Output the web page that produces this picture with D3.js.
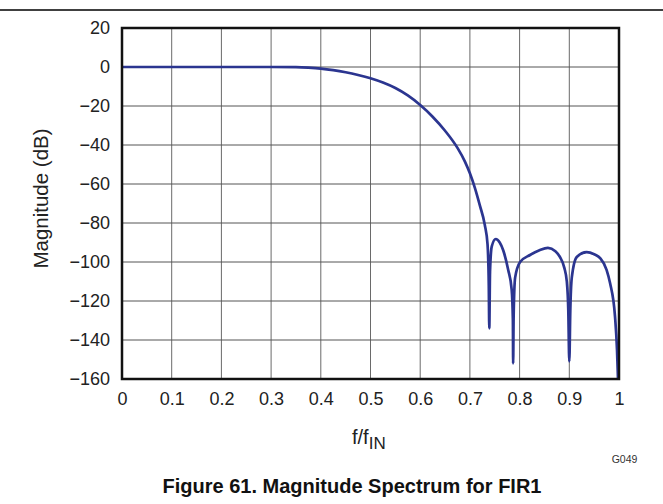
<!DOCTYPE html>
<html><head><meta charset="utf-8">
<script src="https://cdn.jsdelivr.net/npm/d3@7"></script>
<style>
html,body{margin:0;padding:0;background:#fff;}
svg{display:block;font-family:"Liberation Sans",Arial,sans-serif;}
</style></head>
<body>
<svg id="chart" width="663" height="504"></svg>
<script>
const freq = [0,0.1,0.2,0.3,0.35,0.375,0.4,0.425,0.45,0.475,0.5,0.525,0.55,0.575,0.6,0.625,0.65,0.675,0.69,0.7,0.71,0.72,0.73,0.7355,0.738,0.739,0.7405,0.744,0.752,0.76,0.767,0.777,0.784,0.7865,0.787,0.788,0.791,0.801,0.821,0.84,0.857,0.872,0.881,0.89,0.895,0.898,0.9,0.902,0.905,0.915,0.935,0.95,0.962,0.975,0.982,0.992,0.996,0.998];
const magnitude = [0,0,0,0,-0.1,-0.35,-0.8,-1.6,-2.7,-4.1,-5.8,-8.0,-10.8,-14.6,-19.5,-25.5,-32.7,-41.5,-48.5,-54.5,-62,-71,-81,-91,-112,-134,-105,-92,-88.2,-90,-94,-104,-114,-130,-152,-128,-108,-100,-96.4,-94,-92.8,-94.5,-97.4,-103,-110,-125,-151,-125,-108,-97.4,-94.9,-96,-98,-104,-110.8,-128,-145,-160];
const xTicks = [0,0.1,0.2,0.3,0.4,0.5,0.6,0.7,0.8,0.9,1];
const yTicks = [20,0,-20,-40,-60,-80,-100,-120,-140,-160];

const svg = d3.select("#chart");
const L = 122, R = 619, T = 28, B = 379;
const x = d3.scaleLinear().domain([0,1]).range([L,R]);
const y = d3.scaleLinear().domain([-160,20]).range([B,T]);
const FONT = "Liberation Sans, Arial, sans-serif";

// top rule
svg.append("line").attr("x1",0).attr("x2",663).attr("y1",10).attr("y2",10)
  .attr("stroke","#000").attr("stroke-width",1.4);

// grid
const g = svg.append("g");
g.selectAll(".vx").data(xTicks.slice(1,-1)).enter().append("line")
  .attr("x1",d=>x(d)).attr("x2",d=>x(d)).attr("y1",T).attr("y2",B)
  .attr("stroke","#6a6a6a").attr("stroke-width",1);
g.selectAll(".hy").data(yTicks.slice(1,-1)).enter().append("line")
  .attr("y1",d=>y(d)).attr("y2",d=>y(d)).attr("x1",L).attr("x2",R)
  .attr("stroke","#555").attr("stroke-width",1);

// axes labels via d3 axes
const fmtX = d => d===0 ? "0" : (d===1 ? "1" : d.toString());
const xAxis = d3.axisBottom(x).tickValues(xTicks).tickSize(0).tickPadding(13).tickFormat(fmtX);
svg.append("g").attr("transform",`translate(0,${B})`).call(xAxis)
  .attr("font-size",18).attr("font-family",FONT)
  .call(a=>a.select(".domain").remove())
  .selectAll("text").attr("fill","#222");
const fmtY = d => d<0 ? "\u2212"+Math.abs(d) : String(d);
const yAxis = d3.axisLeft(y).tickValues(yTicks).tickSize(0).tickPadding(12).tickFormat(fmtY);
svg.append("g").attr("transform",`translate(${L},0)`).call(yAxis)
  .attr("font-size",18).attr("font-family",FONT)
  .call(a=>a.select(".domain").remove())
  .selectAll("text").attr("fill","#222");

// curve
svg.append("clipPath").attr("id","clip").append("rect").attr("x",L).attr("y",T).attr("width",R-L).attr("height",B-T);
const data = freq.map((f,i)=>({f, m: magnitude[i]}));
const line = d3.line().x(d=>x(d.f)).y(d=>y(d.m)).curve(d3.curveMonotoneX);
svg.append("path").datum(data).attr("d",line).attr("fill","none")
  .attr("stroke","#2b3590").attr("stroke-width",2.7).attr("stroke-linejoin","round")
  .attr("clip-path","url(#clip)");

// frame
svg.append("rect").attr("x",L).attr("y",T).attr("width",R-L).attr("height",B-T)
  .attr("fill","none").attr("stroke","#111").attr("stroke-width",2.5);

// axis titles
const xt = svg.append("text").attr("x",352).attr("y",444).attr("text-anchor","start")
  .attr("font-size",20).attr("font-family",FONT).attr("fill","#222");
xt.append("tspan").text("f/f");
xt.append("tspan").attr("font-size",17).attr("dy",5).text("IN");

svg.append("text").attr("transform","translate(48,198.5) rotate(-90)").attr("text-anchor","middle")
  .attr("font-size",20.5).attr("font-family",FONT).attr("fill","#222").text("Magnitude (dB)");

svg.append("text").attr("x",624.5).attr("y",463).attr("text-anchor","middle")
  .attr("font-size",10.5).attr("font-family",FONT).attr("fill","#333").text("G049");

svg.append("text").attr("x",352).attr("y",493).attr("text-anchor","middle")
  .attr("font-size",20).attr("font-weight","bold").attr("font-family",FONT).attr("fill","#111")
  .text("Figure 61. Magnitude Spectrum for FIR1");
</script>
</body></html>
